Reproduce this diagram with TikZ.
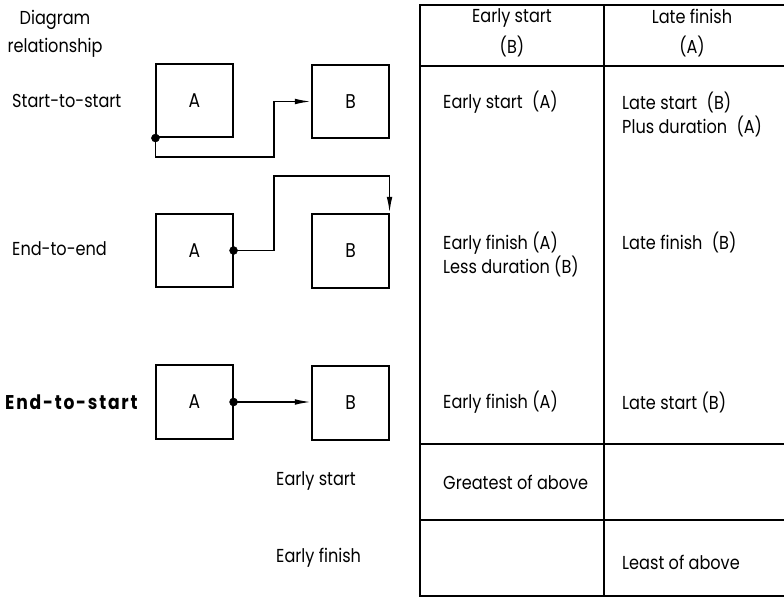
\documentclass[tikz,border=0pt]{standalone}
\usepackage{fontspec}
\setmainfont{Poppins}[FakeStretch=0.86]
\usepackage{tikz}
\usetikzlibrary{arrows.meta}
\tikzset{
  rlbox/.style={draw=black, line width=1.5pt, minimum width=2.29cm, minimum height=2.2cm, inner sep=0pt, font=\fontsize{17}{18}\selectfont},
  rllink/.style={line width=1.5pt, draw=black, line join=miter},
  rlarrow/.style={rllink, -{Latex[length=0.5cm, width=0.17cm]}},
  rldot/.style={fill=black, draw=black},
  rlgrid/.style={line width=1.5pt, draw=black},
  rllabel/.style={font=\fontsize{16}{24}\selectfont, inner sep=0pt, align=center},
  rlhead/.style={font=\fontsize{16}{26}\selectfont, inner sep=0pt, align=center},
  rlcell/.style={font=\fontsize{16}{20.5}\selectfont, inner sep=0pt, anchor=west, align=left},
}
\begin{document}
\begin{tikzpicture}[x=0.03cm, y=-0.03cm]
\useasboundingbox (0,0) rectangle (784,599);
% table
\draw[rlgrid] (784,5) -- (420,5) -- (420,596) -- (784,596);
\draw[rlgrid] (420,66) -- (784,66);
\draw[rlgrid] (420,444) -- (784,444);
\draw[rlgrid] (420,520) -- (784,520);
\draw[rlgrid] (604,5) -- (604,596);
\node[rlhead] (hdes) at (512,33) {Early start\\(B)};
\node[rlhead] (hdlf) at (692,33) {Late finish\\(A)};
\node[rlcell] (ss1) at (443,102) {Early start\enspace(A)};
\node[rlcell] (ss2) at (622,114) {Late start\enspace(B)\\Plus duration\enspace(A)};
\node[rlcell] (ee1) at (443,254) {Early finish (A)\\Less duration (B)};
\node[rlcell] (ee2) at (622,242) {Late finish\enspace(B)};
\node[rlcell] (es1) at (443,402) {Early finish (A)};
\node[rlcell] (es2) at (622,402) {Late start (B)};
\node[rlcell] (grt) at (443,482) {Greatest of above};
\node[rlcell] (lst) at (622,562) {Least of above};
% left labels
\node[rllabel] (dgrel) at (55,34) {Diagram\\relationship};
\node[rlcell] (lbss) at (12,101) {Start-to-start};
\node[rlcell] (lbee) at (12,249) {End-to-end};
\node[rlcell, font=\fontsize{17}{20}\selectfont\bfseries\addfontfeature{LetterSpace=9}] (lbes) at (5,402) {End-to-start};
\node[rlcell] (lbst) at (276,481) {Early start};
\node[rlcell] (lbfn) at (276,558) {Early finish};
% start-to-start
\node[rlbox] (a1) at (194.5,100.5) {A};
\node[rlbox] (b1) at (350.5,101.5) {B};
\coordinate (k1) at (274,157);
\draw[rlarrow] (a1.south west) |- (k1) |- (b1.west);
\fill[rldot] (a1.south west) circle (4);
% end-to-end
\node[rlbox] (a2) at (194.5,250.5) {A};
\node[rlbox] (b2) at (350.5,251) {B};
\coordinate (k2) at (274,176);
\draw[rlarrow] (a2.east) -| (k2) -| (b2.north east);
\fill[rldot] (a2.east) circle (4);
% end-to-start
\node[rlbox] (a3) at (194.5,402) {A};
\node[rlbox] (b3) at (350.5,403) {B};
\draw[rlarrow] (a3.east) -- (a3.east -| b3.west);
\fill[rldot] (a3.east) circle (4);
\end{tikzpicture}
\end{document}
